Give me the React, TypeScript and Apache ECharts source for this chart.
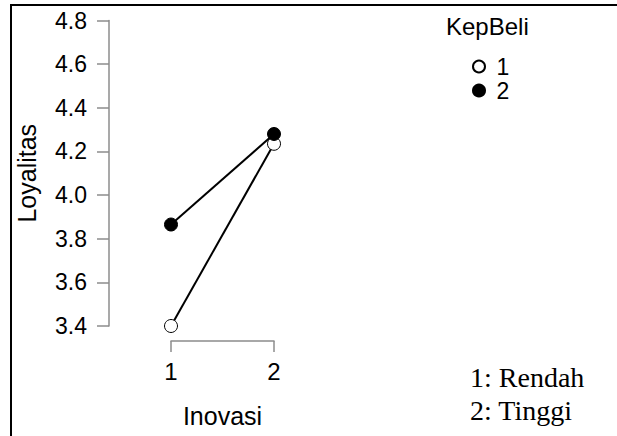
import React, { useEffect, useRef } from "react";
import * as echarts from "echarts";

const inovasi = [1, 2];
const kepBeli1 = [3.4, 4.235];
const kepBeli2 = [3.865, 4.28];
const seriesNames = ["1", "2"];
const yTicks = { min: 3.4, max: 4.8, interval: 0.2 };
const notes = ["1: Rendah", "2: Tinggi"];

const SANS = "'Liberation Sans', Arial, sans-serif";
const SERIF = "'Liberation Serif', 'Times New Roman', serif";

export default function App() {
  const ref = useRef<HTMLDivElement>(null);
  useEffect(() => {
    if (!ref.current) return;
    const chart = echarts.init(ref.current, null, { renderer: "svg" });
    const axisGray = "#8c8c8c";
    chart.setOption({
      animation: false,
      backgroundColor: "#fff",
      grid: { left: 171, right: 343, top: 20.5, bottom: 110 },
      xAxis: {
        type: "value",
        min: 1,
        max: 2,
        interval: 1,
        offset: 15,
        name: "Inovasi",
        nameLocation: "middle",
        nameGap: 62,
        nameTextStyle: { fontFamily: SANS, fontSize: 25, color: "#000" },
        axisLine: { show: true, lineStyle: { color: axisGray, width: 1.5 } },
        axisTick: { show: true, length: 11, lineStyle: { color: axisGray, width: 1.5 } },
        axisLabel: {
          margin: 18,
          fontFamily: SANS,
          fontSize: 24,
          color: "#000",
          formatter: (v: number) => String(v),
        },
        splitLine: { show: false },
      },
      yAxis: {
        type: "value",
        min: yTicks.min,
        max: yTicks.max,
        interval: yTicks.interval,
        offset: 62,
        name: "Loyalitas",
        nameLocation: "middle",
        nameGap: 70,
        nameTextStyle: { fontFamily: SANS, fontSize: 25, color: "#000" },
        axisLine: { show: true, lineStyle: { color: axisGray, width: 1.5 } },
        axisTick: { show: true, length: 12, lineStyle: { color: axisGray, width: 1.5 } },
        axisLabel: {
          margin: 22,
          fontFamily: SANS,
          fontSize: 23,
          color: "#000",
          formatter: (v: number) => v.toFixed(1),
        },
        splitLine: { show: false },
      },
      legend: {
        orient: "vertical",
        left: 467,
        top: 50,
        itemWidth: 12,
        itemHeight: 12,
        itemGap: 1,
        icon: "circle",
        formatter: (n: string) => " " + n,
        textStyle: { fontFamily: SANS, fontSize: 23, color: "#000", lineHeight: 23 },
        data: seriesNames,
      },
      graphic: [
        {
          type: "text",
          left: 446,
          top: 14,
          style: { text: "KepBeli", fontFamily: SANS, fontSize: 24, fill: "#000" },
        },
        {
          type: "text",
          left: 470,
          top: 363,
          style: { text: notes[0], fontFamily: SERIF, fontSize: 28, fill: "#000" },
        },
        {
          type: "text",
          left: 470,
          top: 396,
          style: { text: notes[1], fontFamily: SERIF, fontSize: 28, fill: "#000" },
        },
        {
          type: "line",
          shape: { x1: 11, y1: 4, x2: 11, y2: 436 },
          style: { stroke: "#000", lineWidth: 2 },
        },
        {
          type: "line",
          shape: { x1: 10, y1: 5, x2: 617, y2: 5 },
          style: { stroke: "#000", lineWidth: 2 },
        },
      ],
      series: [
        {
          name: seriesNames[0],
          type: "line",
          data: inovasi.map((x, i) => [x, kepBeli1[i]]),
          symbol: "circle",
          symbolSize: 13,
          lineStyle: { color: "#000", width: 2 },
          itemStyle: { color: "#fff", borderColor: "#000", borderWidth: 1 },
          z: 3,
        },
        {
          name: seriesNames[1],
          type: "line",
          data: inovasi.map((x, i) => [x, kepBeli2[i]]),
          symbol: "circle",
          symbolSize: 13,
          lineStyle: { color: "#000", width: 2 },
          itemStyle: { color: "#000", borderColor: "#000", borderWidth: 1 },
          z: 4,
        },
      ],
    });
    return () => chart.dispose();
  }, []);
  return (
    <div
      ref={ref}
      style={{ position: "fixed", left: 0, top: 0, width: 617, height: 436 }}
    />
  );
}
